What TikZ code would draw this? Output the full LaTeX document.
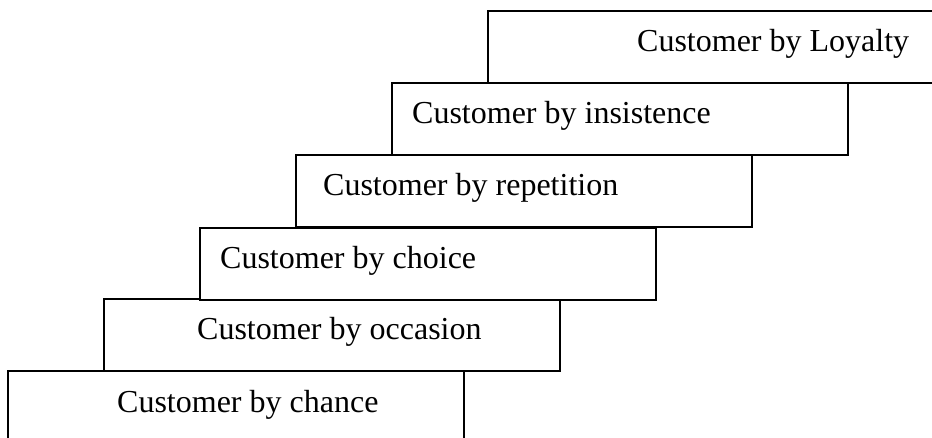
\documentclass[tikz,border=0pt]{standalone}
\usepackage{fontspec}
\setmainfont{Liberation Serif}
\begin{document}
\begin{tikzpicture}[x=1pt,y=-1pt,
  stairbox/.style={draw=black, line width=2.2pt, fill=white, rectangle, anchor=north west,
    minimum width=456pt, minimum height=72pt, inner sep=0pt, outer sep=0pt},
  stairtext/.style={anchor=base west, inner sep=0pt, font=\fontsize{32}{38}\selectfont}]
\useasboundingbox (0,0) rectangle (932,438);
\clip (0,0) rectangle (932,438);
\node[stairbox] (b1) at (8,371) {};
\node[stairbox] (b2) at (104,299) {};
\node[stairbox] (b3) at (200,228) {};
\node[stairbox] (b4) at (296,155) {};
\node[stairbox] (b5) at (392,83) {};
\node[stairbox] (b6) at (488,11) {};
\node[stairtext] (t1) at (117,412) {Customer by chance};
\node[stairtext] (t2) at (197,340) {Customer by occasion};
\node[stairtext] (t3) at (220,269) {Customer by choice};
\node[stairtext] (t4) at (323,196) {Customer by repetition};
\node[stairtext] (t5) at (412,124) {Customer by insistence};
\node[stairtext] (t6) at (637,52) {Customer by Loyalty};
\end{tikzpicture}
\end{document}
